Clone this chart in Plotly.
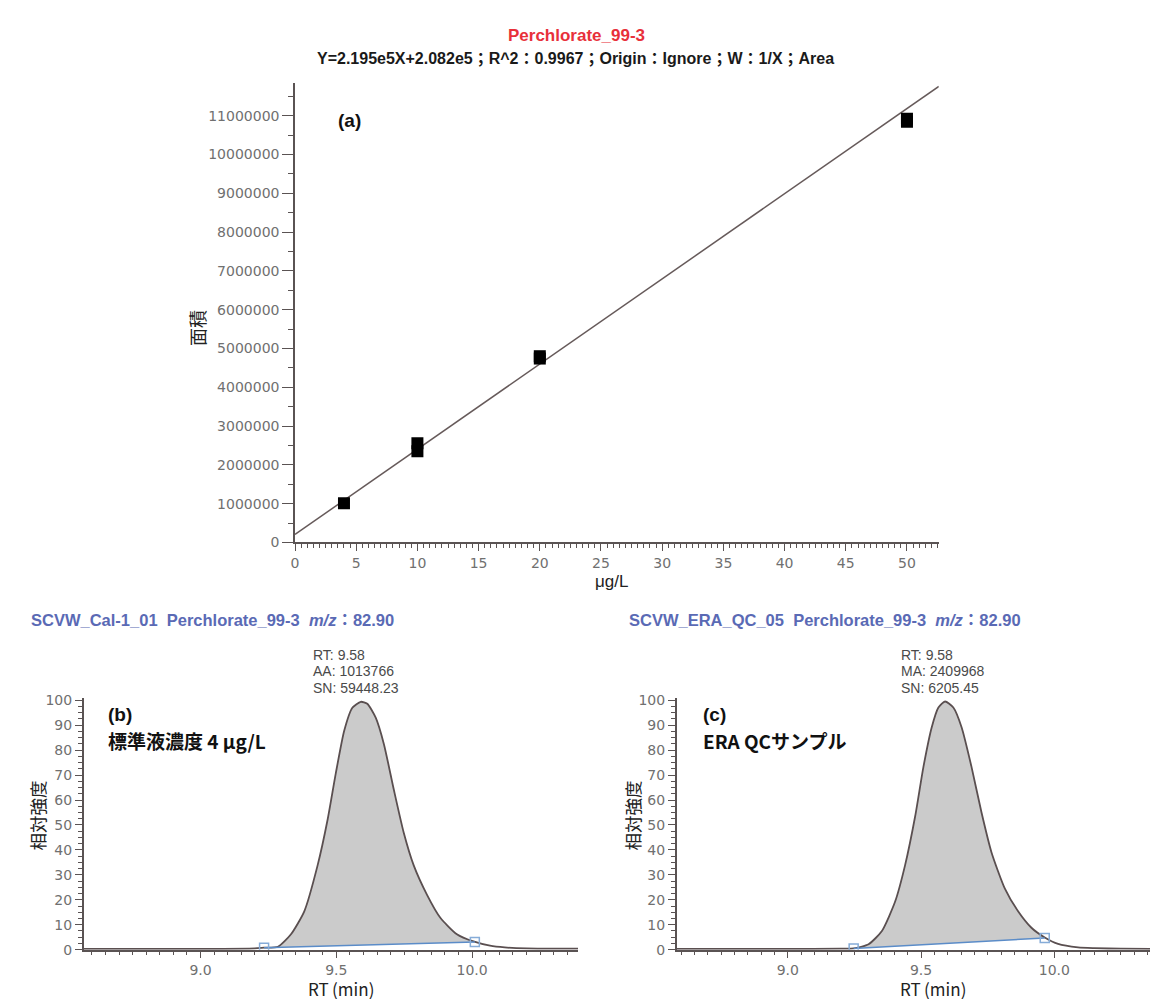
import plotly.graph_objects as go

W, H = 1158, 999

# ---------------- data ----------------
# (a) calibration curve
cal_conc = [4, 10, 10, 20, 20, 50, 50]
cal_area = [1013766, 2350000, 2560000, 4740000, 4800000, 10840000, 10920000]
fit_slope = 2.195e5
fit_intercept = 2.082e5
fit_conc = [0, 52.6]
a_xticks = [0, 5, 10, 15, 20, 25, 30, 35, 40, 45, 50]
a_yticks = [0, 1000000, 2000000, 3000000, 4000000, 5000000, 6000000,
            7000000, 8000000, 9000000, 10000000, 11000000]

# (b) chromatogram, standard 4 ug/L
rt_b = [8.57, 9.0, 9.2, 9.234, 9.285, 9.333, 9.382, 9.431, 9.468, 9.498, 9.529,
        9.559, 9.59, 9.614, 9.645, 9.675, 9.712, 9.748, 9.785, 9.834, 9.883,
        9.944, 10.005, 10.066, 10.12, 10.2, 10.39]
int_b = [0.3, 0.3, 0.5, 0.8, 1.2, 6.2, 15.4, 33.8, 52.2, 70.7, 87.8,
         97.0, 99.4, 98.6, 93.0, 82.5, 64.0, 47.0, 33.8, 22.0, 12.8,
         6.2, 3.3, 1.6, 0.9, 0.5, 0.4]
base_b_rt = [9.234, 10.01]
base_b_int = [0.8, 3.1]

# (c) chromatogram, ERA QC sample
rt_c = [8.58, 9.0, 9.2, 9.247, 9.303, 9.353, 9.403, 9.44, 9.478, 9.509, 9.54,
        9.565, 9.59, 9.621, 9.652, 9.689, 9.727, 9.764, 9.814, 9.864, 9.914,
        9.964, 10.014, 10.089, 10.15, 10.25, 10.42]
int_c = [0.3, 0.3, 0.4, 0.5, 2.2, 7.5, 19.4, 33.9, 53.6, 73.4, 89.2,
         97.1, 99.5, 97.1, 89.2, 73.4, 54.9, 39.1, 24.6, 15.4, 8.8,
         4.9, 2.3, 0.9, 0.6, 0.4, 0.3]
base_c_rt = [9.247, 9.964]
base_c_int = [0.5, 4.7]

chrom_yticks = [0, 10, 20, 30, 40, 50, 60, 70, 80, 90, 100]
chrom_xticks = [9.0, 9.5, 10.0]
chrom_xlabels = ["9.0", "9.5", "10.0"]

# ---------------- helpers ----------------
def px(x):
    return x / W

def py(y):
    return 1 - y / H

AX = "#5a5353"
TICKC = "#707070"
LAT = "Liberation Sans, Arial, Noto Sans CJK JP"
JP = "Noto Sans CJK JP, Liberation Sans"

fig = go.Figure()

# (a) fit line
fig.add_trace(go.Scatter(
    x=fit_conc, y=[fit_slope * c + fit_intercept for c in fit_conc],
    mode="lines", line=dict(color="#665a5a", width=1.5),
    xaxis="x", yaxis="y", showlegend=False, hoverinfo="skip"))
fig.add_trace(go.Scatter(
    x=cal_conc, y=cal_area, mode="markers",
    marker=dict(symbol="square", size=12, color="#000000"),
    xaxis="x", yaxis="y", showlegend=False))


def chrom(rt, inten, brt, bint, xa, ya):
    # integrated area between curve and baseline
    fx = [brt[0]] + [r for r in rt if brt[0] < r < brt[1]] + [brt[1]]
    fy = [bint[0]] + [i for r, i in zip(rt, inten) if brt[0] < r < brt[1]] + [bint[1]]
    fig.add_trace(go.Scatter(
        x=fx, y=fy, mode="lines", fill="toself", fillcolor="#cbcbcb",
        line=dict(width=0, shape="spline", smoothing=0.6), xaxis=xa, yaxis=ya,
        showlegend=False, hoverinfo="skip"))
    fig.add_trace(go.Scatter(
        x=rt, y=inten, mode="lines",
        line=dict(color="#5a4f50", width=1.8, shape="spline", smoothing=0.6),
        xaxis=xa, yaxis=ya, showlegend=False))
    fig.add_trace(go.Scatter(
        x=brt, y=bint, mode="lines+markers",
        line=dict(color="#5b8cc8", width=1.6),
        marker=dict(symbol="square-open", size=9, color="#86acd8", line=dict(width=1.5)),
        xaxis=xa, yaxis=ya, showlegend=False))


chrom(rt_b, int_b, base_b_rt, base_b_int, "x2", "y2")
chrom(rt_c, int_c, base_c_rt, base_c_int, "x3", "y3")

common_axis = dict(showline=True, linecolor=AX, linewidth=1.5, ticks="outside",
                   tickcolor=AX, tickwidth=1.3, showgrid=False, zeroline=False,
                   fixedrange=True)

xaxis = dict(common_axis, domain=[px(284), px(930)], range=[0, 52.6],
             tickvals=a_xticks, ticklen=7, anchor="y",
             tickfont=dict(family="DejaVu Sans", size=14, color=TICKC),
             minor=dict(dtick=0.5, tick0=0, ticklen=4, ticks="outside", tickcolor=AX, showgrid=False))
yaxis = dict(common_axis, domain=[py(536), py(70)], range=[0, 11.84e6],
             tickvals=a_yticks, ticktext=[str(v) for v in a_yticks], ticklen=11, anchor="x",
             tickfont=dict(family="DejaVu Sans", size=14, color=TICKC),
             minor=dict(dtick=500000, tick0=0, ticklen=5, ticks="outside", tickcolor=AX, showgrid=False))

def chrom_axes(d0, d1, r0, r1, anchor_y, anchor_x):
    xa = dict(common_axis, domain=[px(d0), px(d1)], range=[r0, r1],
              tickvals=chrom_xticks, ticktext=chrom_xlabels, ticklen=7, anchor=anchor_y,
              tickfont=dict(family="DejaVu Sans", size=14, color=TICKC),
              minor=dict(dtick=0.05, tick0=9.0, ticklen=4, ticks="outside", tickcolor=AX, showgrid=False))
    ya = dict(common_axis, domain=[py(949), py(693.5)], range=[0, 101],
              tickvals=chrom_yticks, ticklen=7, anchor=anchor_x,
              tickfont=dict(family="DejaVu Sans", size=14, color=TICKC),
              minor=dict(dtick=2.5, tick0=0, ticklen=4, ticks="outside", tickcolor=AX, showgrid=False))
    return xa, ya

xaxis2, yaxis2 = chrom_axes(72, 568, 8.57, 10.39, "y2", "x2")
xaxis3, yaxis3 = chrom_axes(667, 1158, 8.583, 10.419, "y3", "x3")

ann = []

def text(x, y, t, size, color="#222222", family=LAT, xanchor="left", angle=0, bold=False):
    if bold:
        t = "<b>" + t + "</b>"
    ann.append(dict(x=px(x), y=py(y), xref="paper", yref="paper", text=t,
                    showarrow=False, xanchor=xanchor, yanchor="middle", textangle=angle,
                    font=dict(family=family, size=size, color=color)))

# titles
text(566, 22, "Perchlorate_99-3", 17, color="#e8303a", xanchor="center", bold=True)
text(565, 45, "Y=2.195e5X+2.082e5；R^2：0.9967；Origin：Ignore；W：1/X；Area", 16,
     color="#1a1a1a", xanchor="center", bold=True)
# (a)
text(325, 108, "(a)", 19, bold=True, color="#111111")
text(185, 318, "面積", 18, family=JP, xanchor="center", angle=-90, color="#222222")
text(602, 576, "μg/L", 17, xanchor="center", color="#222222")

# headers
BL = "#5a6ab5"
text(17, 615, "SCVW_Cal-1_01\u00a0\u00a0Perchlorate_99-3\u00a0\u00a0<i>m/z</i>：82.90", 16.5, color=BL, bold=True)
text(617, 615, "SCVW_ERA_QC_05\u00a0\u00a0Perchlorate_99-3\u00a0\u00a0<i>m/z</i>：82.90", 16.5, color=BL, bold=True)

# peak info
for i, line in enumerate(["RT: 9.58", "AA: 1013766", "SN: 59448.23"]):
    text(300, 650 + i * 16.7, line, 14, color="#4a4a4a")
for i, line in enumerate(["RT: 9.58", "MA: 2409968", "SN: 6205.45"]):
    text(890, 650 + i * 16.7, line, 14, color="#4a4a4a")

# panel labels
text(94, 710, "(b)", 19, bold=True, color="#111111")
text(94, 737, "標準液濃度 4 μg/L", 19, bold=True, family=JP, color="#111111")
text(691, 710, "(c)", 19, bold=True, color="#111111")
text(691, 737, "ERA QCサンプル", 19, bold=True, family=JP, color="#111111")

# chrom axis titles
text(26, 813, "相対強度", 17.5, family=JP, xanchor="center", angle=-90)
text(623, 813, "相対強度", 17.5, family=JP, xanchor="center", angle=-90)
text(330, 988, "RT\u2009(min)", 17, family=JP, xanchor="center")
text(924, 988, "RT\u2009(min)", 17, family=JP, xanchor="center")

fig.update_layout(
    width=W, height=H, margin=dict(l=0, r=0, t=0, b=0),
    paper_bgcolor="white", plot_bgcolor="white",
    xaxis=xaxis, yaxis=yaxis, xaxis2=xaxis2, yaxis2=yaxis2, xaxis3=xaxis3, yaxis3=yaxis3,
    annotations=ann, showlegend=False)

fig.write_html("out.html")
